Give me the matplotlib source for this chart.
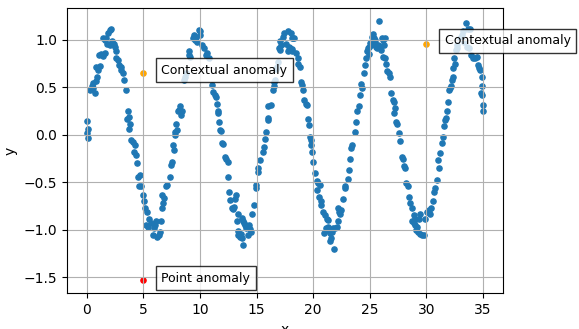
import matplotlib
matplotlib.use("Agg")
import matplotlib.pyplot as plt

# --- data ---
x_a = [0.00, 0.05, 0.10, 0.15, 0.35, 0.44, 0.53, 0.59, 0.73, 0.82, 0.82, 0.94, 1.03, 1.11, 1.17,
       1.32, 1.41, 1.47, 1.61, 1.61, 1.76, 1.82, 1.91, 2.06, 2.06, 2.20, 2.29, 2.41, 2.50, 2.58,
       2.64, 2.79, 2.88, 3.00, 3.08, 3.23, 3.29, 3.47, 3.61, 3.67, 3.73, 3.76, 3.82, 3.96, 4.11,
       4.20, 4.26, 4.35, 4.41, 4.55, 4.64, 4.70]
y_a = [0.02, 0.15, -0.03, 0.06, 0.47, 0.51, 0.55, 0.49, 0.44, 0.57, 0.72, 0.61, 0.68, 0.84, 0.73,
       0.85, 1.02, 0.83, 0.86, 1.00, 1.02, 0.96, 1.07, 1.10, 0.95, 1.12, 0.99, 0.96, 0.93, 0.88,
       0.81, 0.79, 0.74, 0.72, 0.68, 0.65, 0.58, 0.47, 0.17, 0.25, 0.06, 0.19, 0.12, -0.05, -0.07,
       -0.18, -0.11, -0.21, -0.30, -0.44, -0.54, -0.42]

x_b = [4.85, 4.95, 5.05, 5.15, 5.25, 5.34, 5.40, 5.55, 5.68, 5.88, 5.93, 6.06, 6.17, 6.23, 6.38,
       6.47, 6.60, 6.66, 6.67, 6.75, 6.88, 7.00, 7.11, 7.35, 7.46, 7.55, 7.64, 7.70, 7.82, 7.85,
       7.93, 7.99, 8.05, 8.20, 8.28, 8.34, 8.43, 8.58, 8.72, 8.80, 9.00, 9.05, 9.10, 9.40, 9.50,
       9.60, 9.65, 9.78, 9.90, 10.00, 10.04, 10.20, 10.34, 10.50, 10.63, 10.77, 11.10, 11.20]
y_b = [-0.54, -0.63, -0.70, -0.77, -0.95, -0.81, -0.97, -0.88, -0.93, -1.05, -0.98, -0.95, -0.91, -1.07, -1.05,
       -1.02, -0.91, -0.63, -0.77, -0.72, -0.66, -0.54, -0.53, -0.44, -0.32, -0.28, -0.11, -0.16, 0.03, 0.00,
       0.12, 0.05, 0.25, 0.26, 0.30, 0.21, 0.25, 0.58, 0.61, 0.65, 0.84, 0.88, 0.82, 1.02, 1.05,
       1.00, 1.03, 0.98, 1.10, 1.05, 1.09, 0.95, 0.91, 0.84, 0.86, 0.81, 0.53, 0.45]

x_c = [11.30, 11.43, 11.52, 11.57, 11.63, 11.72, 11.81, 11.87, 11.92, 12.01, 12.22, 12.31, 12.45, 12.51, 12.60,
       12.69, 12.81, 12.89, 13.04, 13.10, 13.19, 13.30, 13.39, 13.33, 13.40, 13.57, 13.63, 13.74, 13.83, 13.69,
       13.77, 13.92, 13.98, 14.07, 14.22, 14.36, 14.45, 14.51, 14.22, 14.57, 14.75, 14.95, 14.97, 15.10, 15.16,
       15.33, 15.54, 15.63, 15.74, 15.83, 15.98, 16.04, 15.98, 16.27, 16.42, 16.51, 16.57, 16.66, 16.71, 16.80,
       16.86, 17.00, 17.10, 17.15, 17.10, 17.30, 17.45, 17.60, 17.74, 17.89, 18.18]
y_c = [0.42, 0.40, 0.33, 0.25, 0.23, 0.14, 0.05, 0.04, -0.08, -0.10, -0.23, -0.25, -0.28, -0.44, -0.60,
       -0.69, -0.77, -0.78, -0.76, -0.67, -0.63, -0.91, -0.83, -1.01, -1.05, -1.07, -1.04, -1.09, -1.16, -0.87,
       -0.91, -0.93, -0.95, -0.98, -0.97, -0.95, -0.99, -1.02, -1.05, -0.83, -0.74, -0.56, -0.53, -0.39, -0.35,
       -0.26, -0.18, -0.13, -0.04, 0.03, 0.16, 0.18, 0.30, 0.32, 0.47, 0.51, 0.56, 0.58, 0.69, 0.72,
       0.77, 0.91, 0.89, 0.95, 0.99, 1.03, 1.07, 0.96, 0.88, 0.93, 1.02]

x_d = [17.80, 18.03, 18.09, 18.33, 17.95, 18.15, 18.09, 18.45, 18.68, 18.62, 18.83, 18.91, 19.03, 19.12, 19.21,
       19.33, 19.42, 19.56, 19.62, 19.74, 19.80, 19.85, 19.91, 20.00, 20.15, 20.30, 20.44, 20.59, 20.30, 20.50,
       20.68, 20.73, 20.88, 21.03, 21.18, 21.27, 20.97, 21.09, 21.27, 21.32, 21.47, 21.56, 21.47, 21.62, 21.77,
       21.91, 21.85, 22.06, 22.15, 22.20, 22.26, 22.35, 22.44, 22.64, 22.79, 22.85, 23.03, 23.14, 23.23, 23.38,
       23.44, 23.67, 23.82, 23.90, 24.02, 24.11, 24.20, 24.32, 24.50, 24.61, 24.70, 24.79]
y_d = [1.09, 1.07, 1.02, 1.02, 0.91, 0.90, 0.88, 0.86, 0.81, 0.75, 0.72, 0.56, 0.53, 0.47, 0.37,
       0.33, 0.31, 0.17, 0.10, -0.02, -0.05, -0.11, -0.18, -0.28, -0.40, -0.49, -0.51, -0.53, -0.58, -0.65,
       -0.70, -0.74, -0.81, -0.84, -0.88, -0.90, -1.03, -0.98, -0.97, -1.00, -1.03, -1.09, -1.12, -1.02, -0.98,
       -0.98, -1.20, -0.97, -0.91, -0.77, -0.81, -0.83, -0.79, -0.67, -0.56, -0.54, -0.46, -0.37, -0.25, -0.14,
       -0.11, 0.03, 0.14, 0.25, 0.30, 0.42, 0.54, 0.49, 0.65, 0.74, 0.81, 0.88]

x_e = [24.85, 24.90, 24.95, 25.05, 25.14, 25.20, 25.26, 25.34, 25.43, 25.49, 25.55, 25.64, 25.73, 25.82, 25.90,
       25.99, 26.11, 26.14, 26.20, 26.29, 26.32, 26.37, 26.43, 26.52, 26.67, 26.81, 26.90, 27.02, 27.11, 27.15,
       27.20, 27.31, 27.40, 27.61, 27.70, 27.84, 27.90, 27.99, 28.08, 28.20, 28.37, 28.43, 28.58, 28.72, 28.75,
       28.87, 28.90, 28.96, 29.02, 29.08, 29.16, 29.25, 29.31, 29.46, 29.46, 29.60, 29.75, 29.90, 30.05, 30.19,
       30.34, 30.42, 30.54, 30.63, 30.78, 30.93]
y_e = [0.91, 0.85, 0.93, 0.97, 0.95, 1.03, 1.06, 1.02, 1.00, 0.97, 0.93, 0.92, 0.95, 1.20, 0.94,
       0.89, 1.02, 0.82, 1.00, 0.95, 0.81, 1.02, 0.75, 0.67, 0.65, 0.61, 0.44, 0.37, 0.35, 0.23,
       0.28, 0.14, 0.12, 0.02, -0.06, -0.23, -0.25, -0.33, -0.35, -0.51, -0.54, -0.65, -0.72, -0.77, -0.91,
       -0.84, -0.93, -0.88, -0.95, -1.00, -0.97, -1.02, -0.88, -0.83, -1.04, -1.05, -1.05, -0.88, -0.81, -0.79,
       -0.83, -0.77, -0.70, -0.60, -0.56, -0.47]

x_f = [31.07, 31.04, 31.19, 31.33, 31.42, 31.54, 31.63, 31.72, 31.78, 31.92, 32.01, 32.07, 32.13, 32.22, 32.31,
       32.36, 32.42, 32.51, 32.60, 32.66, 32.72, 32.95, 33.10, 33.25, 33.31, 33.48, 33.54, 33.69, 33.77, 33.83,
       33.89, 34.07, 34.28, 34.42, 34.57, 34.66, 34.71, 34.77, 34.86, 34.86, 34.92, 34.96, 35.00]
y_f = [-0.35, -0.26, -0.19, -0.09, -0.02, 0.09, 0.16, 0.18, 0.25, 0.35, 0.47, 0.49, 0.51, 0.58, 0.61,
       0.70, 0.81, 0.75, 0.89, 0.92, 0.95, 1.02, 1.05, 1.09, 0.98, 1.18, 0.93, 1.11, 0.91, 1.12,
       0.84, 0.81, 0.81, 0.82, 0.74, 0.70, 0.68, 0.44, 0.61, 0.42, 0.51, 0.32, 0.25]

x_series = x_a + x_b + x_c + x_d + x_e + x_f
y_series = y_a + y_b + y_c + y_d + y_e + y_f

ctx_x = [5.0, 30.0]
ctx_y = [0.65, 0.96]
pt_x = [5.0]
pt_y = [-1.53]
ctx_label = "Contextual anomaly"
pt_label = "Point anomaly"

fig = plt.figure(figsize=(5.79, 3.29), dpi=100)
ax = fig.add_axes([0.1152, 0.1085, 0.8687 - 0.1152, 0.9748 - 0.1085])

ax.scatter(x_series, y_series, s=14, color="#1f77b4")
ax.scatter(ctx_x, ctx_y, s=14, color="orange")
ax.scatter(pt_x, pt_y, s=14, color="red")

box = dict(facecolor="white", alpha=0.8, edgecolor="black")
for cx, cy in zip(ctx_x, ctx_y):
    ax.annotate(ctx_label, xy=(cx, cy), xytext=(cx + 1.6, cy + 0.03),
                va="center", ha="left", fontsize=9, bbox=box)
for px, py in zip(pt_x, pt_y):
    ax.annotate(pt_label, xy=(px, py), xytext=(px + 1.6, py + 0.02),
                va="center", ha="left", fontsize=9, bbox=box)

ax.set_xlim(-1.75, 36.75)
ax.set_ylim(-1.667, 1.333)
ax.set_xticks([0, 5, 10, 15, 20, 25, 30, 35])
ax.set_yticks([-1.5, -1.0, -0.5, 0.0, 0.5, 1.0])
ax.set_xlabel("x")
ax.set_ylabel("y")
ax.grid(True)

fig.savefig("out.png", dpi=100)
